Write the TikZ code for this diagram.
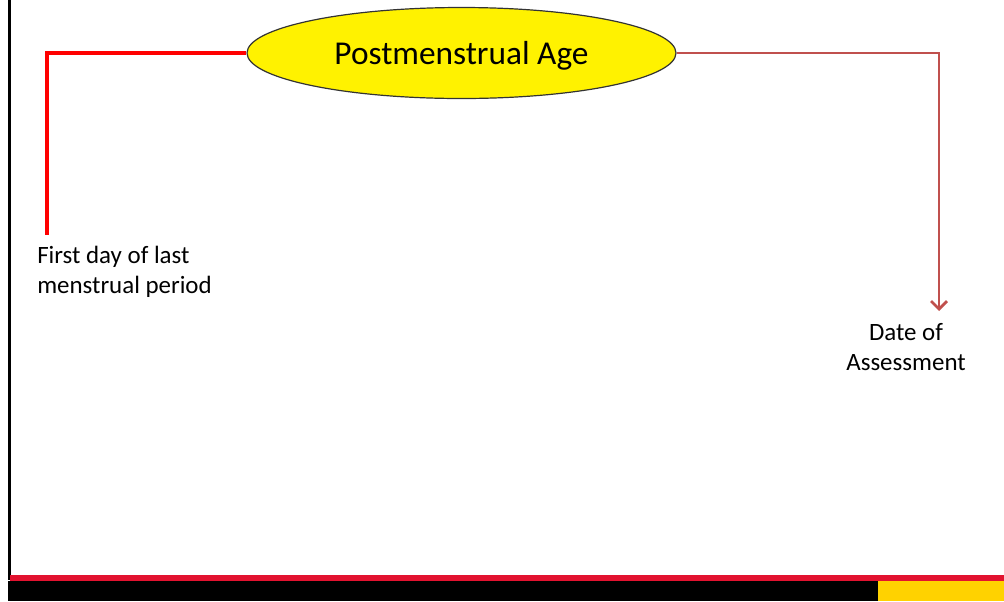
\documentclass[tikz,border=0pt]{standalone}
\usepackage{fontspec}
\setmainfont{Carlito}
\usetikzlibrary{shapes.geometric,arrows.meta}
\definecolor{leftred}{HTML}{FF0000}
\definecolor{rightred}{HTML}{C0504D}
\definecolor{barred}{HTML}{E2122F}
\definecolor{baryellow}{HTML}{FFD200}
\tikzset{
  ageellipse/.style={ellipse, draw=black!80, line width=0.9pt, fill=yellow, minimum width=321.75pt, minimum height=68.25pt, inner sep=0pt, text depth=0pt, font=\fontsize{25}{29}\selectfont},
  lbl/.style={inner sep=0pt, font=\fontsize{18.7}{22.5}\selectfont},
  leftconn/.style={draw=leftred, line width=2.6pt},
  rightconn/.style={draw=rightred, line width=2pt, -{Straight Barb[length=6pt,width=12pt]}},
}
\begin{document}
\begin{tikzpicture}[x=0.75pt,y=-0.75pt]
\useasboundingbox (0,0) rectangle (1004,601);
% frame pieces
\fill[black] (8,0) rectangle (10.5,580);
\fill[barred] (10,575) rectangle (1004,580.5);
\fill[black] (8,580.5) rectangle (878,601);
\fill[baryellow] (878,580.5) rectangle (1004,601);
% main node
\node[ageellipse] (age) at (461.5,53) {Postmenstrual Age};
\coordinate (lcorner) at (47,53);
\coordinate (lend) at (47,235);
\coordinate (rcorner) at (939,53);
\coordinate (rend) at (939,311);
\draw[leftconn] (age.west) -- (lcorner) -- (lend);
\draw[rightconn] (age.east) -- (rcorner) -- (rend);
\node[lbl, anchor=base west, align=left] (lmp) at (37,293) {First day of last\\menstrual period};
\node[lbl, anchor=base, align=center] (doa) at (906,370) {Date of\\Assessment};
\end{tikzpicture}
\end{document}
